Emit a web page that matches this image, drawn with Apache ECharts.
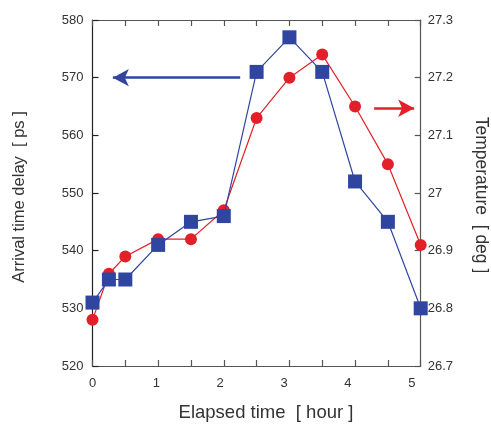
<!DOCTYPE html>
<html>
<head>
<meta charset="utf-8">
<script src="https://cdn.jsdelivr.net/npm/echarts@6/dist/echarts.min.js"></script>
<style>html,body{margin:0;padding:0;background:#fff;}#c{width:491px;height:425px;}</style>
</head>
<body>
<div id="c"></div>
<script>
const hours = [0, 0.25, 0.5, 1, 1.5, 2, 2.5, 3, 3.5, 4, 4.5, 5];
const delay = [531, 535, 535, 541, 545, 546, 571, 577, 571, 552, 545, 530];
const temperature = [26.78, 26.86, 26.89, 26.92, 26.92, 26.97, 27.13, 27.20, 27.24, 27.15, 27.05, 26.91];
const xTicks = [0, 1, 2, 3, 4, 5];
const blueArrow = [[2.25, 570], [0.31, 570]];
const redArrow = [[4.29, 27.147], [4.9, 27.147]];

const BLUE = '#2f45a0';
const RED = '#e3202a';
const FONT = '"Liberation Sans", Arial, sans-serif';

const chart = echarts.init(document.getElementById('c'), null, {renderer: 'canvas'});
const axisLineStyle = {color: '#555', width: 1.2};
chart.setOption({
  animation: false,
  backgroundColor: '#fff',
  grid: {left: 92.5, top: 20, right: 70.3, bottom: 59, containLabel: false},
  xAxis: [
    {type: 'value', position: 'bottom', min: 0, max: 5, interval: 0.5,
     axisLine: {show: true, onZero: false, lineStyle: axisLineStyle},
     axisTick: {show: true, inside: true, length: 6, lineStyle: axisLineStyle},
     axisLabel: {show: false}, splitLine: {show: false}},
    {type: 'value', position: 'top', min: 0, max: 5, interval: 0.5,
     axisLine: {show: true, onZero: false, lineStyle: axisLineStyle},
     axisTick: {show: true, inside: true, length: 6, lineStyle: axisLineStyle},
     axisLabel: {show: false}, splitLine: {show: false}},
    {type: 'value', position: 'bottom', min: 0, max: 5.14, interval: 1,
     axisLine: {show: false}, axisTick: {show: false}, splitLine: {show: false},
     axisLabel: {show: true, margin: 11, color: '#333', fontSize: 13, fontFamily: FONT,
       showMaxLabel: false,
       formatter: v => (xTicks.indexOf(Math.round(v * 100) / 100) >= 0 ? String(Math.round(v)) : '')}}
  ],
  yAxis: [
    {type: 'value', position: 'left', min: 520, max: 580, interval: 10,
     axisLine: {show: true, onZero: false, lineStyle: {color: '#222', width: 1.2}},
     axisTick: {show: true, inside: true, length: 6, lineStyle: {color: '#222', width: 1.2}},
     axisLabel: {margin: 9, color: '#333', fontSize: 13, fontFamily: FONT},
     splitLine: {show: false}},
    {type: 'value', position: 'right', min: 26.7, max: 27.3, interval: 0.1,
     axisLine: {show: true, onZero: false, lineStyle: axisLineStyle},
     axisTick: {show: true, inside: true, length: 6, lineStyle: axisLineStyle},
     axisLabel: {margin: 7, color: '#333', fontSize: 13, fontFamily: FONT,
       formatter: v => String(Math.round(v * 10) / 10)},
     splitLine: {show: false}}
  ],
  series: [
    {type: 'line', name: 'Temperature', xAxisIndex: 0, yAxisIndex: 1, z: 2,
     data: hours.map((h, i) => [h, temperature[i]]),
     symbol: 'circle', symbolSize: 12,
     lineStyle: {color: RED, width: 1.2}, itemStyle: {color: RED},
     emphasis: {disabled: true},
     markLine: {silent: true, animation: false, symbol: ['none', 'arrow'], symbolSize: [13, 16],
       label: {show: false}, lineStyle: {color: RED, width: 2.5, type: 'solid'},
       data: [[{coord: redArrow[0]}, {coord: redArrow[1]}]]}},
    {type: 'line', name: 'Delay', xAxisIndex: 0, yAxisIndex: 0, z: 3,
     data: hours.map((h, i) => [h, delay[i]]),
     symbol: 'rect', symbolSize: 14,
     lineStyle: {color: BLUE, width: 1.2}, itemStyle: {color: BLUE},
     emphasis: {disabled: true},
     markLine: {silent: true, animation: false, symbol: ['none', 'arrow'], symbolSize: [13, 16],
       label: {show: false}, lineStyle: {color: BLUE, width: 2.5, type: 'solid'},
       data: [[{coord: blueArrow[0]}, {coord: blueArrow[1]}]]}}
  ],
  graphic: [
    {type: 'text', x: 19, y: 197, rotation: Math.PI / 2,
     style: {text: 'Arrival time delay  [ ps ]', font: '16.5px ' + FONT, fill: '#333', align: 'center', verticalAlign: 'middle'}},
    {type: 'text', x: 481, y: 195, rotation: -Math.PI / 2,
     style: {text: 'Temperature  [ deg ]', font: '17.5px ' + FONT, fill: '#333', align: 'center', verticalAlign: 'middle'}},
    {type: 'text', x: 266, y: 413,
     style: {text: 'Elapsed time  [ hour ]', font: '18.5px ' + FONT, fill: '#333', align: 'center', verticalAlign: 'middle'}}
  ]
});
</script>
</body>
</html>
